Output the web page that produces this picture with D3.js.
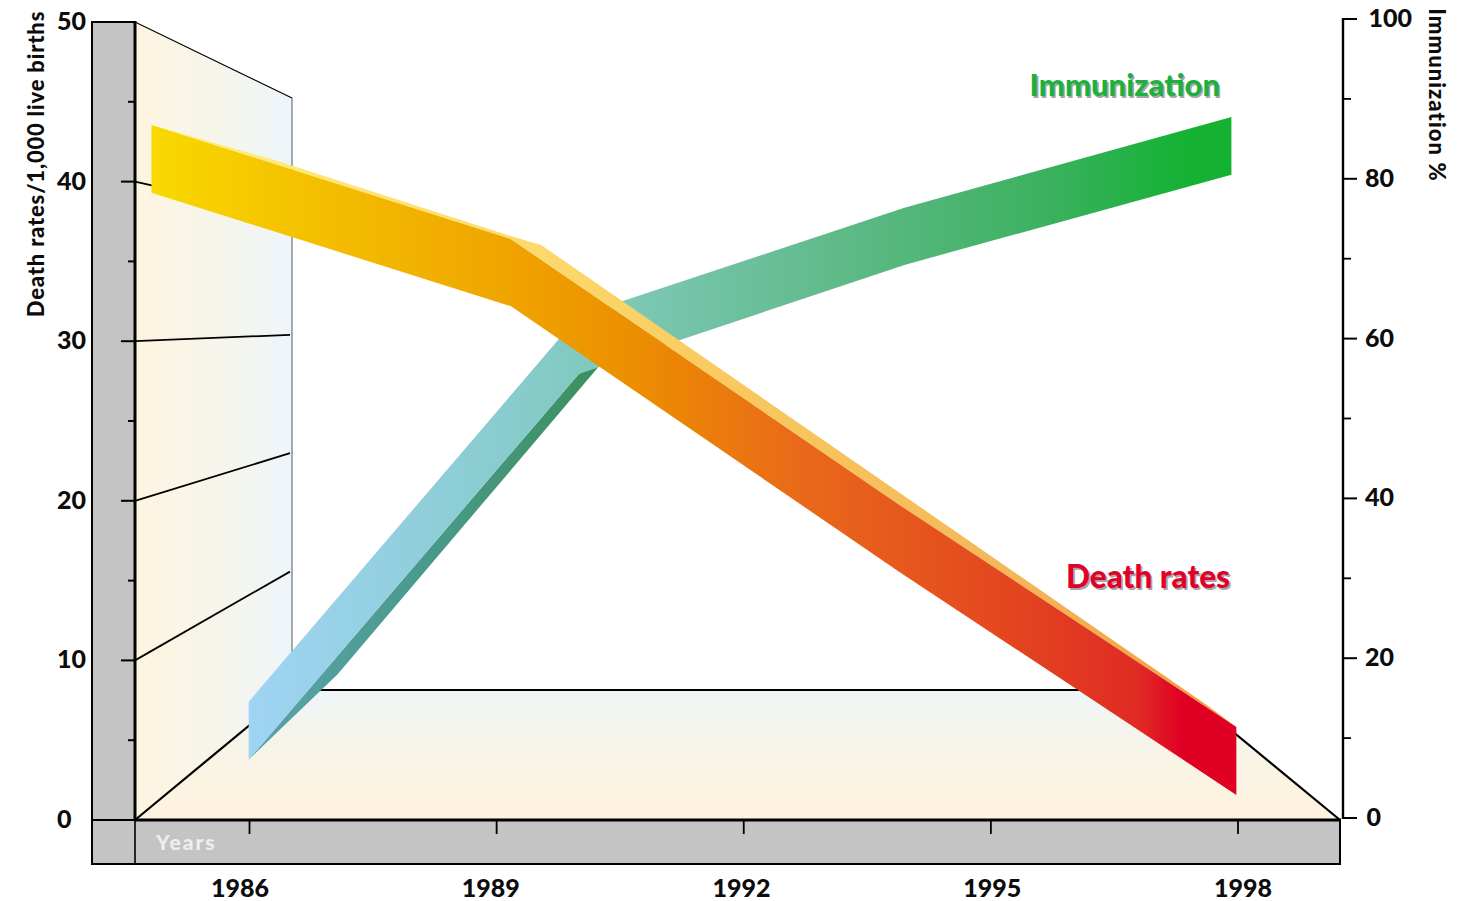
<!DOCTYPE html>
<html><head><meta charset="utf-8">
<script src="https://cdn.jsdelivr.net/npm/d3@7"></script>
<style>html,body{margin:0;padding:0;background:#fff}svg{display:block}text{font-family:Lato,sans-serif;font-weight:900;fill:#0c0c0c}</style>
</head><body><svg id="c" width="1470" height="901"></svg>
<script>
// ---- data ----
const yearTicks = [1986, 1989, 1992, 1995, 1998];
const deathTicks = [0, 10, 20, 30, 40, 50];
const deathMinor = [5, 15, 25, 35, 45];
const immTicks = [0, 20, 40, 60, 80, 100];
const immMinor = [10, 30, 50, 70, 90];
const wallGrid = [10, 20, 30, 40];

const deathYears = [1984.81, 1989.17, 1993.89, 1997.98];
const deathTop = [43.55, 36.4, 19.74, 5.83];
const deathBottom = [39.3, 32.2, 15.54, 1.57];
const deathFaceYears = [1984.81, 1986.38, 1989.13, 1989.54, 1997.62, 1997.98];
const deathFaceTop = [43.55, 41.23, 36.65, 36.03, 7.2, 5.83];

const immYears = [1985.99, 1990.0, 1993.96, 1997.92];
const immTop = [14.55, 62.9, 76.4, 87.75];
const immBottom = [7.3, 55.6, 69.25, 80.5];
const immSideYears = [1985.99, 1987.07, 1990.24, 1990.0];
const immSideValues = [7.3, 18.0, 56.5, 55.6];

// ---- scales ----
const x = d3.scaleLinear().domain([1986, 1998]).range([249.5, 1238]);
const yL = d3.scaleLinear().domain([0, 50]).range([820, 22]);
const yR = d3.scaleLinear().domain([0, 100]).range([818, 19]);
const yBack = d3.scaleLinear().domain([0, 50]).range([690, 98]);
const xLabel = d3.scalePoint().domain(yearTicks).range([240, 1243]);

const left = 135, right = 1340, bandL = 92, bandB = 864, backL = 292;
// the far floor edge and the right diagonal both stop behind the death-rate ribbon
const backLineFrom = 320, backLineTo = 1110, rightEndX = 1215, rightEndY = 717;

const svg = d3.select("#c");
const defs = svg.append("defs");
function grad(id, x1, y1, x2, y2, stops) {
  const g = defs.append("linearGradient").attr("id", id).attr("gradientUnits", "userSpaceOnUse")
    .attr("x1", x1).attr("y1", y1).attr("x2", x2).attr("y2", y2);
  stops.forEach(s => g.append("stop").attr("offset", s[0]).attr("stop-color", s[1]));
}
grad("wall", left, 0, backL, 0, [[0, "#fef4e0"], [0.45, "#f7f5e9"], [1, "#eef5fb"]]);
grad("floor", 0, yBack(0), 0, yL(0), [[0, "#eff5f7"], [0.5, "#f8f4e7"], [0.85, "#fdf3e0"], [1, "#fdf3e0"]]);
grad("death", 151, 0, 1236, 0, [[0, "#f8d900"], [0.12, "#f5c400"], [0.33, "#efa400"], [0.45, "#ec8d00"], [0.6, "#e9691a"], [0.79, "#e3461f"], [0.91, "#e02b24"], [0.95, "#e00024"], [1, "#e00024"]]);
grad("face", 151, 0, 1236, 0, [[0, "#fff07c"], [0.36, "#fcd96c"], [0.55, "#f8c85e"], [0.8, "#f5b658"], [1, "#f19c3c"]]);
grad("imm", 248, 0, 1231, 0, [[0, "#9fd4f4"], [0.25, "#8accd0"], [0.38, "#7ec8b8"], [0.6, "#5fba88"], [0.8, "#3eb162"], [0.96, "#14b133"], [1, "#14b133"]]);
grad("side", 248, 0, 598, 0, [[0, "#5aa3ab"], [0.5, "#4a9a8c"], [1, "#3c8f5f"]]);

const poly = (pts, fill) => svg.append("polygon").attr("points", pts.map(p => p.join(",")).join(" ")).attr("fill", fill);
const line = (x1, y1, x2, y2, w, c) => svg.append("line").attr("x1", x1).attr("y1", y1).attr("x2", x2).attr("y2", y2)
  .attr("stroke", c || "#000").attr("stroke-width", w);
const zip = (xs, ys, sy) => xs.map((v, i) => [x(v), sy(ys[i])]);

// grey bands
svg.append("rect").attr("x", bandL).attr("y", yL(50)).attr("width", left - bandL).attr("height", bandB - yL(50))
  .attr("fill", "#c4c4c4").attr("stroke", "#000").attr("stroke-width", 2);
svg.append("rect").attr("x", bandL).attr("y", yL(0)).attr("width", right - bandL).attr("height", bandB - yL(0))
  .attr("fill", "#c4c4c4").attr("stroke", "#000").attr("stroke-width", 2);

// floor and wall
poly([[left, yL(0)], [right, yL(0)], [rightEndX, rightEndY], [backLineTo, yBack(0)], [backL, yBack(0)]], "url(#floor)");
poly([[left, yL(50)], [backL, yBack(50)], [backL, yBack(0)], [left, yL(0)]], "url(#wall)");
line(backL, yBack(50), backL, yBack(0) - 30, 1.2, "#6f7378");
line(left, yL(50), backL, yBack(50), 1.1);
wallGrid.forEach(v => line(left, yL(v), backL - 2, yBack(v), 1.8));
line(left, yL(0), backL, yBack(0), 2.2);
line(right, yL(0), rightEndX, rightEndY, 2.2);
line(backLineFrom, yBack(0), backLineTo, yBack(0), 2);

// axes
line(left, yL(50) - 1, left, yL(0), 3);
line(left, yL(0), left, bandB, 1.6);
line(left, yL(0), right + 1, yL(0), 3);
const tickL = (vals, len) => vals.forEach(v => line(left - len, yL(v), left, yL(v), 2));
tickL(deathTicks, 14); tickL(deathMinor, 7);
yearTicks.forEach(y => line(x(y), yL(0), x(y), yL(0) + 14, 1.8));
const rx = 1343;
line(rx, yR(100) - 1, rx, yR(0) + 1, 2.4);
immTicks.forEach(v => line(rx, yR(v), rx + 14, yR(v), 2));
immMinor.forEach(v => line(rx, yR(v), rx + 8, yR(v), 1.8));

// immunization ribbon
const immLower = zip(immYears, immBottom, yR), immUpper = zip(immYears, immTop, yR);
poly(zip(immSideYears, immSideValues, yR), "url(#side)");
poly([...immUpper, ...immLower.reverse()], "url(#imm)");

// death-rate ribbon
const dUpper = zip(deathYears, deathTop, yL), dLower = zip(deathYears, deathBottom, yL);
poly([...zip(deathFaceYears, deathFaceTop, yL), ...dUpper.slice().reverse()], "url(#face)");
poly([...dUpper, ...dLower.reverse()], "url(#death)");

// text
const txt = (s, tx, ty, size, anchor, extra) => {
  const t = svg.append("text").attr("x", tx).attr("y", ty).attr("font-size", size).attr("text-anchor", anchor || "start").text(s);
  if (extra) extra(t);
  return t;
};
deathTicks.forEach(v => txt(v, 57, yL(v) + 8, 25, "start"));
immTicks.forEach(v => txt(v, 1412, yR(v) + 8, 25, "end").attr("x", v === 0 ? 1381 : v === 100 ? 1412 : 1394));
yearTicks.forEach(y => txt(y, xLabel(y), 897, 25, "middle"));
txt("Death rates/1,000 live births", 0, 0, 22, "middle", t => t.attr("transform", "translate(44,164) rotate(-90)").attr("letter-spacing", 0.8));
txt("Immunization %", 0, 0, 22, "middle", t => t.attr("transform", "translate(1429,95) rotate(90)").attr("letter-spacing", 1.1));
txt("Years", 156, 850, 21, "start", t => t.style("fill", "#eeeeee").attr("letter-spacing", 2));

const legend = (s, tx, ty, c, size) => {
  txt(s, tx + 1.6, ty + 1.6, size, "end", t => t.style("fill", "#a6a6a6"));
  txt(s, tx, ty, size, "end", t => t.style("fill", c));
};
legend("Immunization", 1220, 96, "#1bb13c", 31);
legend("Death rates", 1230, 588, "#e0002a", 31.5);
</script></body></html>
